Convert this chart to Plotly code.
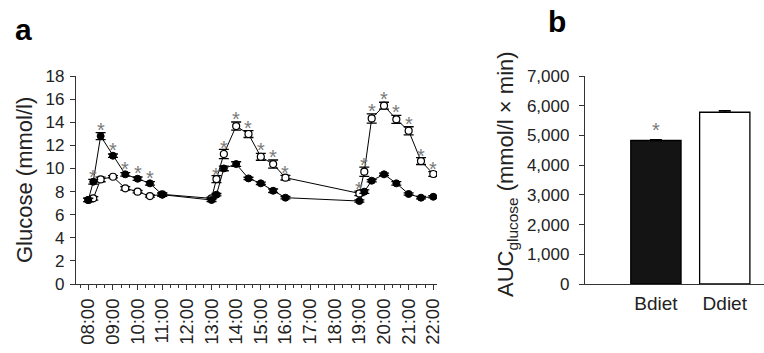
import plotly.graph_objects as go

# ---------------- data ----------------
times = [8, 8.2, 8.5, 9, 9.5, 10, 10.5, 11, 13, 13.2, 13.5, 14, 14.5, 15, 15.5, 16,
         19, 19.2, 19.5, 20, 20.5, 21, 21.5, 22]
bdiet = [7.27, 8.85, 12.8, 11.1, 9.49, 9.11, 8.71, 7.73, 7.27, 7.73, 10.0, 10.38,
         9.14, 8.71, 8.07, 7.47, 7.18, 7.99, 8.94, 9.49, 8.71, 7.79, 7.47, 7.55]
bdiet_err = [0.15, 0.2, 0.3, 0.15, 0.15, 0.15, 0.15, 0.15, 0.15, 0.1, 0.2, 0.2,
             0.1, 0.1, 0.15, 0.1, 0.1, 0.15, 0.1, 0.1, 0.15, 0.1, 0.1, 0.1]
ddiet = [7.27, 7.41, 9.05, 9.28, 8.28, 7.99, 7.61, 7.76, 7.41, 9.08, 11.25, 13.67,
         12.98, 11.01, 10.38, 9.2, 7.84, 9.72, 14.33, 15.43, 14.25, 13.26, 10.64, 9.52]
ddiet_err = [0.15, 0.15, 0.2, 0.1, 0.15, 0.1, 0.1, 0.1, 0.1, 0.3, 0.4, 0.35,
             0.3, 0.3, 0.35, 0.2, 0.2, 0.4, 0.4, 0.3, 0.35, 0.35, 0.3, 0.2]

star_times = [8.2, 8.5, 9, 9.5, 10, 10.5, 13.2, 13.5, 14, 14.5, 15, 15.5, 16,
              19, 19.2, 19.5, 20, 20.5, 21, 21.5, 22]
star_levels = [9.7, 13.75, 12.0, 10.4, 10.0, 9.6, 9.9, 12.2, 14.7, 13.95, 12.0, 11.4,
               10.06, 8.65, 10.7, 15.4, 16.4, 15.3, 14.3, 11.5, 10.4]

hour_ticks = list(range(8, 23))
hour_labels = ["08:00", "09:00", "10:00", "11:00", "12:00", "13:00", "14:00", "15:00",
               "16:00", "17:00", "18:00", "19:00", "20:00", "21:00", "22:00"]
glucose_ticks = [0, 2, 4, 6, 8, 10, 12, 14, 16, 18]

diets = ["Bdiet", "Ddiet"]
auc = [4830, 5780]
auc_err = [25, 55]
auc_ticks = [0, 1000, 2000, 3000, 4000, 5000, 6000, 7000]

# ---------------- figure ----------------
FONT = "Liberation Sans, Arial, Helvetica, sans-serif"
TXT = "#222222"
AX = "#333333"
STAR = "#7a7a7a"

fig = go.Figure()

fig.add_trace(go.Scatter(
    x=times, y=ddiet, mode="lines+markers",
    line=dict(color="black", width=1),
    marker=dict(symbol="circle", size=7, color="white", line=dict(color="black", width=1.2)),
    error_y=dict(type="data", array=ddiet_err, color="black", thickness=1.3, width=5),
    xaxis="x", yaxis="y", showlegend=False))

fig.add_trace(go.Scatter(
    x=times, y=bdiet, mode="lines+markers",
    line=dict(color="black", width=1),
    marker=dict(symbol="circle", size=7, color="black", line=dict(color="black", width=1)),
    error_y=dict(type="data", array=bdiet_err, color="black", thickness=1.3, width=5),
    xaxis="x", yaxis="y", showlegend=False))

fig.add_trace(go.Bar(
    x=diets, y=auc, width=0.73,
    marker=dict(color=["#141414", "white"], line=dict(color="black", width=1.3)),
    error_y=dict(type="data", array=auc_err, arrayminus=[0, 0], color="black",
                 thickness=1.3, width=6),
    xaxis="x2", yaxis="y2", showlegend=False))

annotations = []
for t, lv in zip(star_times, star_levels):
    annotations.append(dict(x=t, y=lv, xref="x", yref="y", text="*", showarrow=False,
                            font=dict(family=FONT, size=20, color=STAR), yshift=-5))
annotations.append(dict(x=diets[0], y=auc[0] + 520, xref="x2", yref="y2", text="*",
                        showarrow=False, font=dict(family=FONT, size=20, color=STAR), yshift=-5))

annotations += [
    dict(x=24 / 764, y=1 - 180 / 353, xref="paper", yref="paper", text="Glucose (mmol/l)",
         textangle=-90, showarrow=False, xanchor="center", yanchor="middle",
         font=dict(family=FONT, size=22, color=TXT)),
    dict(x=507 / 764, y=1 - 174 / 353, xref="paper", yref="paper",
         text="AUC<sub>glucose</sub> (mmol/l × min)",
         textangle=-90, showarrow=False, xanchor="center", yanchor="middle",
         font=dict(family=FONT, size=22, color=TXT)),
    dict(x=13 / 764, y=1 - 29 / 353, xref="paper", yref="paper", text="<b>a</b>",
         showarrow=False, xanchor="left", yanchor="middle",
         font=dict(family=FONT, size=30, color="black")),
    dict(x=546 / 764, y=1 - 22 / 353, xref="paper", yref="paper", text="<b>b</b>",
         showarrow=False, xanchor="left", yanchor="middle",
         font=dict(family=FONT, size=30, color="black")),
]

ydom = [69 / 353, 277 / 353]
common_axis = dict(showgrid=False, zeroline=False, showline=True, linecolor=AX, linewidth=1.3,
                   tickwidth=1.2, tickcolor=AX, ticklen=5, automargin=False)

fig.update_layout(
    width=764, height=353,
    margin=dict(l=0, r=0, t=0, b=0, autoexpand=False),
    paper_bgcolor="white", plot_bgcolor="white",
    xaxis=dict(domain=[76 / 764, 437 / 764], range=[7.5, 22.15],
               tickmode="array", tickvals=hour_ticks, ticktext=hour_labels, tickangle=-90,
               ticks="outside", ticklabelstandoff=1,
               tickfont=dict(family=FONT, size=18.5, color=TXT),
               minor=dict(tickmode="linear", tick0=8, dtick=1 / 3, ticks="outside",
                          ticklen=3, tickwidth=1, tickcolor=AX),
               anchor="y", **common_axis),
    yaxis=dict(domain=ydom, range=[0, 18], tickmode="array", tickvals=glucose_ticks,
               ticks="outside", ticklabelstandoff=2,
               tickfont=dict(family=FONT, size=17, color=TXT), anchor="x", **common_axis),
    xaxis2=dict(domain=[585 / 764, 1.0], range=[-1.03, 1.57], type="category",
                ticks="", ticklabelstandoff=2,
                tickfont=dict(family=FONT, size=19, color=TXT), anchor="y2", **common_axis),
    yaxis2=dict(domain=ydom, range=[0, 7000], tickmode="array", tickvals=auc_ticks,
                tickformat=",", ticks="outside", ticklabelstandoff=6,
                tickfont=dict(family=FONT, size=17, color=TXT), anchor="x2", **common_axis),
    annotations=annotations,
)

fig.write_html("out.html")
